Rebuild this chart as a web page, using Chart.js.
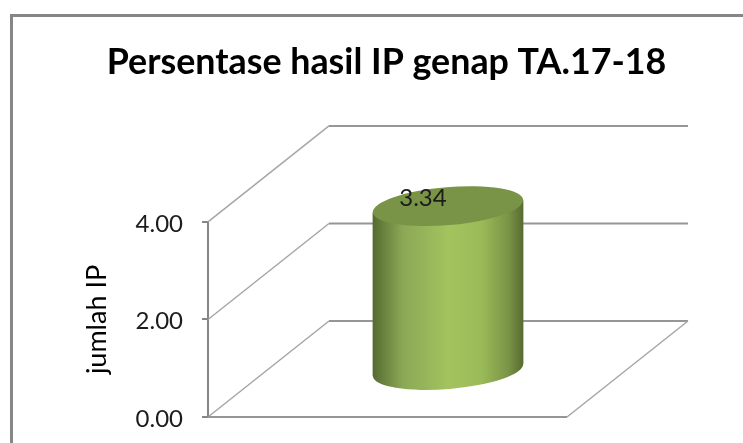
<!DOCTYPE html>
<html>
<head>
<meta charset="utf-8">
<style>html,body{margin:0;padding:0;background:#fff}canvas{display:block}</style>
<script src="https://cdn.jsdelivr.net/npm/chart.js@4/dist/chart.umd.min.js"></script>
</head>
<body>
<canvas id="c" width="743" height="443"></canvas>
<script>
const categories = ['IP genap TA.17-18'];
const ipValues = [3.34];
const chartTitle = 'Persentase hasil IP genap TA.17-18';
const yAxisTitle = 'jumlah IP';
const FONT = 'Lato, Carlito, "Open Sans", sans-serif';
const GREY = '#868686';
const DEPTH_X = 121, DEPTH_Y = 96;

const scene3d = {
  id: 'scene3d',
  beforeDraw(chart) {
    const ctx = chart.ctx;
    ctx.save();
    ctx.strokeStyle = GREY; ctx.lineWidth = 3;
    ctx.beginPath();
    ctx.moveTo(11.5, 443); ctx.lineTo(11.5, 15.5); ctx.lineTo(743, 15.5);
    ctx.stroke();
    ctx.restore();
  },
  beforeDatasetsDraw(chart) {
    const ctx = chart.ctx, y = chart.scales.y, a = chart.chartArea;
    ctx.save();
    y.ticks.forEach(t => {
      const py = y.getPixelForValue(t.value);
      ctx.strokeStyle = '#a6a6a6'; ctx.lineWidth = 1.5;
      ctx.beginPath();
      ctx.moveTo(a.left, py); ctx.lineTo(a.left + DEPTH_X, py - DEPTH_Y);
      ctx.stroke();
      ctx.strokeStyle = '#969696'; ctx.lineWidth = 2;
      ctx.beginPath();
      ctx.moveTo(a.left + DEPTH_X, py - DEPTH_Y); ctx.lineTo(a.right + DEPTH_X, py - DEPTH_Y);
      ctx.stroke();
    });
    const y0 = y.getPixelForValue(0);
    ctx.strokeStyle = '#969696'; ctx.lineWidth = 2;
    ctx.beginPath(); ctx.moveTo(a.left, y0); ctx.lineTo(a.right, y0); ctx.stroke();
    ctx.strokeStyle = '#a6a6a6'; ctx.lineWidth = 1.5;
    ctx.beginPath(); ctx.moveTo(a.right, y0); ctx.lineTo(a.right + DEPTH_X, y0 - DEPTH_Y); ctx.stroke();
    ctx.restore();
  },
  afterDatasetsDraw(chart) {
    const ctx = chart.ctx;
    chart.getDatasetMeta(0).data.forEach((bar, i) => {
      const cx = bar.x + DEPTH_X / 2;
      const top = bar.y - DEPTH_Y / 2;
      const base = bar.base - DEPTH_Y / 2 + 2;
      const rx = bar.width / 2, ry = 19, tilt = -4.8 * Math.PI / 180;
      const skew = 6;
      const g = ctx.createLinearGradient(cx - rx, 0, cx + rx, 0);
      g.addColorStop(0, '#566b30');
      g.addColorStop(0.2, '#8ba856');
      g.addColorStop(0.5, '#a2c35e');
      g.addColorStop(0.72, '#9bbb58');
      g.addColorStop(0.9, '#7a9447');
      g.addColorStop(1, '#566b30');
      ctx.save();
      ctx.fillStyle = g;
      ctx.beginPath();
      ctx.ellipse(cx, base, rx, ry, tilt, 0, Math.PI * 2);
      ctx.fill();
      ctx.beginPath();
      ctx.moveTo(cx - rx, top + skew);
      ctx.lineTo(cx + rx, top - skew);
      ctx.lineTo(cx + rx, base - skew);
      ctx.lineTo(cx - rx, base + skew);
      ctx.closePath();
      ctx.fill();
      ctx.fillStyle = '#7a9447';
      ctx.beginPath();
      ctx.ellipse(cx, top, rx, ry, tilt, 0, Math.PI * 2);
      ctx.fill();
      ctx.fillStyle = '#1c1c1c';
      ctx.font = '400 24px ' + FONT;
      ctx.textAlign = 'center'; ctx.textBaseline = 'middle';
      ctx.fillText(ipValues[i].toFixed(2), cx - 25, top - 8);
      ctx.restore();
    });
  }
};

new Chart(document.getElementById('c'), {
  type: 'bar',
  plugins: [scene3d],
  data: {
    labels: categories,
    datasets: [{ data: ipValues, backgroundColor: 'rgba(0,0,0,0)', borderWidth: 0,
      categoryPercentage: 1, barPercentage: 0.42 }]
  },
  options: {
    responsive: false,
    animation: false,
    layout: { padding: { left: 30, right: 0, top: 0, bottom: 26 } },
    plugins: {
      legend: { display: false },
      tooltip: { enabled: false },
      title: {
        display: true, text: chartTitle, color: '#000',
        font: { family: FONT, size: 35.8, weight: '700', lineHeight: 1.2 },
        padding: { top: 41, bottom: 138 }
      }
    },
    scales: {
      x: {
        display: true,
        afterFit(s) { s.height = 0; s.paddingLeft = 0; s.paddingRight = 0; },
        grid: { display: false }, border: { display: false },
        ticks: { display: false }
      },
      y: {
        min: 0, max: 4,
        afterFit(s) { s.width = 178; s.paddingTop = 0; s.paddingBottom = 0; },
        ticks: {
          stepSize: 2, color: '#1c1c1c', padding: 19, labelOffset: 2,
          font: { family: FONT, size: 24 },
          callback: v => v.toFixed(2)
        },
        grid: { drawOnChartArea: false, drawTicks: true, tickLength: 6, color: GREY, lineWidth: 2 },
        border: { display: true, color: GREY, width: 2 },
        title: { display: true, text: yAxisTitle, color: '#000',
          font: { family: FONT, size: 27 }, padding: { top: 51, bottom: 0 } }
      },
      spare: {
        position: 'right', display: true,
        afterFit(s) { s.width = 176; s.paddingTop = 0; s.paddingBottom = 0; },
        grid: { display: false }, border: { display: false }, ticks: { display: false }
      }
    }
  }
});
</script>
</body>
</html>
